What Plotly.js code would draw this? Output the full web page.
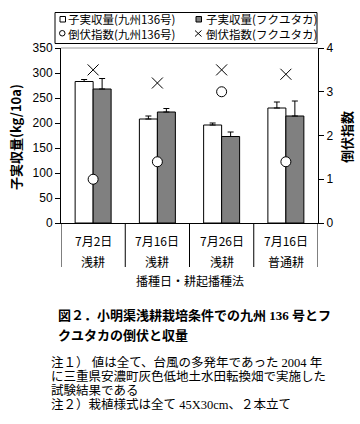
<!DOCTYPE html>
<html><head><meta charset="utf-8">
<script src="https://cdn.plot.ly/plotly-3.0.1.min.js"></script>
<style>body{margin:0;background:#fff}#chart{width:360px;height:424px}</style>
</head><body><div id="chart"></div>
<script>
const categories = ["7月2日", "7月16日", "7月26日", "7月16日"];
const methods = ["浅耕", "浅耕", "浅耕", "普通耕"];
const yieldK136 = [283, 208, 196, 230];
const errK136 = [4, 6, 4, 12];
const yieldFuku = [268, 222, 173, 214];
const errFuku = [21, 7, 9, 30];
const lodgingK136 = [1.0, 1.4, 3.0, 1.4];
const lodgingFuku = [3.5, 3.2, 3.5, 3.4];
const seriesNames = ["子実収量(九州136号)", "子実収量(フクユタカ)", "倒伏指数(九州136号)", "倒伏指数(フクユタカ)"];

const W = 360, H = 424, L = 61, R = 318, T = 48, B = 223;
const px = v => (v - L) / (R - L);
const py = v => (B - v) / (B - T);
const xs = categories.map((_, i) => i);
const JP = '"Noto Sans CJK JP", sans-serif';
const SERIF_JP = '"Liberation Serif", "Noto Sans CJK JP", serif';
const NUM = '"Liberation Sans", Arial, sans-serif';

const traces = [
  {type: 'bar', x: xs, y: yieldK136, name: seriesNames[0],
   marker: {color: '#ffffff', line: {color: '#000', width: 1}},
   error_y: {type: 'data', symmetric: false, array: errK136, arrayminus: errK136.map(() => 0), color: '#000', thickness: 1, width: 3}},
  {type: 'bar', x: xs, y: yieldFuku, name: seriesNames[1],
   marker: {color: '#808080', line: {color: '#000', width: 1}},
   error_y: {type: 'data', symmetric: false, array: errFuku, arrayminus: errFuku.map(() => 0), color: '#000', thickness: 1, width: 3}},
  {type: 'scatter', mode: 'markers', x: xs, y: lodgingK136, yaxis: 'y2', name: seriesNames[2],
   marker: {symbol: 'circle', size: 10, color: '#fff', line: {color: '#000', width: 1}}},
  {type: 'scatter', mode: 'markers', x: xs, y: lodgingFuku, yaxis: 'y2', name: seriesNames[3],
   marker: {symbol: 'x-thin-open', size: 11, color: '#000', line: {color: '#000', width: 1}}}
];

const shapes = [];
const annotations = [];
function txt(xref, x, y, text, size, xanchor, extra, family) {
  annotations.push(Object.assign({xref: xref, yref: 'paper', x: x, y: y, text: text, showarrow: false,
    xanchor: xanchor || 'center', yanchor: 'middle', align: 'left', font: {family: family || JP, size: size, color: '#000'}}, extra || {}));
}
// top border
shapes.push({type: 'line', xref: 'paper', yref: 'paper', x0: 0, x1: 1, y0: 1, y1: 1, line: {color: '#999', width: 1}});
// group dividers below axis
for (let i = 0; i <= categories.length; i++) {
  shapes.push({type: 'line', xref: 'x', yref: 'paper', x0: i - 0.5, x1: i - 0.5, y0: 0, y1: py(267), line: {color: '#000', width: 1}});
}
categories.forEach((c, i) => {
  txt('x', i, py(240), c, 12);
  txt('x', i, py(261.5), methods[i], 12);
});
txt('paper', 0.5, py(280), '播種日・耕起播種法', 12);
// axis titles
txt('paper', px(15), py(137), '<b>子実収量(kg/10a)</b>', 13, 'center', {textangle: -90});
txt('paper', px(346), py(137), '<b>倒伏指数</b>', 13, 'center', {textangle: -90});
// legend box and symbols
shapes.push({type: 'rect', xref: 'paper', yref: 'paper', x0: px(55), x1: px(317), y0: py(43.5), y1: py(12.5), line: {color: '#000', width: 1}, fillcolor: '#fff', layer: 'below'});
shapes.push({type: 'rect', xref: 'paper', yref: 'paper', x0: px(60), x1: px(65.5), y0: py(22), y1: py(16.5), line: {color: '#000', width: 1}, fillcolor: '#fff'});
shapes.push({type: 'rect', xref: 'paper', yref: 'paper', x0: px(196), x1: px(201.5), y0: py(22), y1: py(16.5), line: {color: '#000', width: 1}, fillcolor: '#808080'});
shapes.push({type: 'circle', xref: 'paper', yref: 'paper', x0: px(59.5), x1: px(65), y0: py(36), y1: py(30.5), line: {color: '#000', width: 1}, fillcolor: '#fff'});
shapes.push({type: 'line', xref: 'paper', yref: 'paper', x0: px(195), x1: px(201.5), y0: py(30.5), y1: py(36.5), line: {color: '#000', width: 1}});
shapes.push({type: 'line', xref: 'paper', yref: 'paper', x0: px(195), x1: px(201.5), y0: py(36.5), y1: py(30.5), line: {color: '#000', width: 1}});
txt('paper', px(66), py(26.5), seriesNames[0] + '<br>' + seriesNames[2], 11.5, 'left');
txt('paper', px(204), py(26.5), seriesNames[1] + '<br>' + seriesNames[3], 11.5, 'left');
// caption
txt('paper', px(56), py(315), '<b>図２．小明渠浅耕栽培条件での九州 136 号とフ</b>', 13, 'left', null, SERIF_JP);
txt('paper', px(56), py(335), '<b>クユタカの倒伏と収量</b>', 13, 'left', null, SERIF_JP);
const noteLines = [
  '注１） 値は全て、台風の多発年であった 2004 年',
  'に三重県安濃町灰色低地土水田転換畑で実施した',
  '試験結果である',
  '注２）栽植様式は全て 45X30cm、２本立て'
];
const noteY = [362.5, 376.5, 390, 404];
noteLines.forEach((t, i) => txt('paper', px(49), py(noteY[i]), t, 12.5, 'left', null, SERIF_JP));

const layout = {
  width: W, height: H,
  margin: {l: L, r: W - R, t: T, b: H - B, pad: 0},
  paper_bgcolor: '#fff', plot_bgcolor: '#fff',
  showlegend: false,
  barmode: 'group', bargap: 0.44, bargroupgap: 0,
  xaxis: {range: [-0.5, 3.5], showticklabels: false, ticks: '', showgrid: false, zeroline: false, showline: true, linecolor: '#000', linewidth: 1, fixedrange: true},
  yaxis: {range: [0, 350], dtick: 50, ticks: 'outside', ticklen: 5, tickcolor: '#000', showgrid: false, zeroline: false, showline: true, linecolor: '#000', linewidth: 1, tickfont: {family: NUM, size: 12, color: '#000'}},
  yaxis2: {range: [0, 4], dtick: 1, overlaying: 'y', side: 'right', ticks: 'outside', ticklen: 5, tickcolor: '#000', showgrid: false, zeroline: false, showline: true, linecolor: '#000', linewidth: 1, tickfont: {family: NUM, size: 12, color: '#000'}},
  shapes: shapes, annotations: annotations
};
Plotly.newPlot('chart', traces, layout, {displayModeBar: false, staticPlot: true});
</script>
</body></html>
